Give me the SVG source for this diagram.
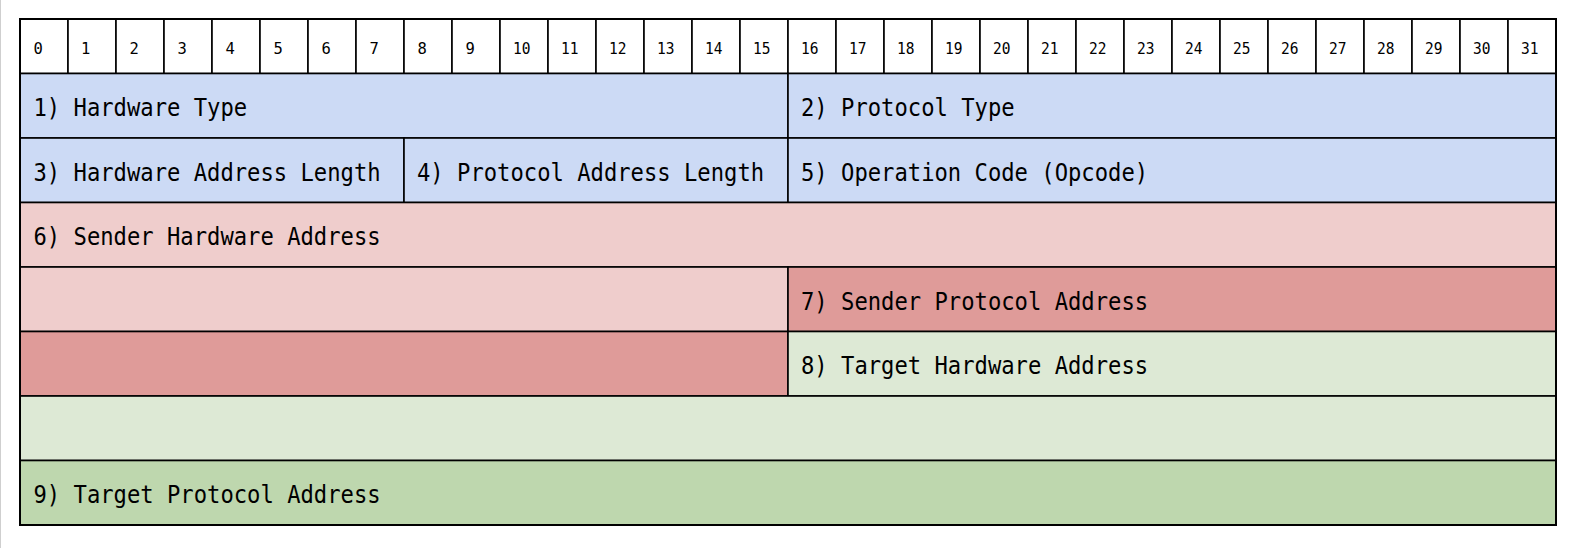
<svg xmlns="http://www.w3.org/2000/svg" width="1584" height="548" viewBox="0 0 1584 548">
<style>
.cell{stroke:#000;stroke-width:1.6}
.hdr{fill:#fff}
.blue{fill:#CCDAF5}
.pink{fill:#EFCDCC}
.red{fill:#DF9B99}
.lgreen{fill:#DDE9D5}
.green{fill:#BED7AE}
.num{font-family:"DejaVu Sans Mono",monospace;font-size:15.5px;fill:#000}
.lbl{font-family:"DejaVu Sans Mono",monospace;font-size:25px;fill:#000}
</style>
<rect x="0" y="0" width="1584" height="548" fill="#fff"/>
<line x1="0.5" y1="0" x2="0.5" y2="548" stroke="#cfcfcf" stroke-width="1"/>
<g id="header">
<rect class="cell hdr" x="20" y="19" width="48" height="54.5"/><text class="num" x="33.5" y="54">0</text>
<rect class="cell hdr" x="68" y="19" width="48" height="54.5"/><text class="num" x="81" y="54">1</text>
<rect class="cell hdr" x="116" y="19" width="48" height="54.5"/><text class="num" x="129.5" y="54">2</text>
<rect class="cell hdr" x="164" y="19" width="48" height="54.5"/><text class="num" x="177.5" y="54">3</text>
<rect class="cell hdr" x="212" y="19" width="48" height="54.5"/><text class="num" x="225.5" y="54">4</text>
<rect class="cell hdr" x="260" y="19" width="48" height="54.5"/><text class="num" x="273.5" y="54">5</text>
<rect class="cell hdr" x="308" y="19" width="48" height="54.5"/><text class="num" x="321.5" y="54">6</text>
<rect class="cell hdr" x="356" y="19" width="48" height="54.5"/><text class="num" x="369.5" y="54">7</text>
<rect class="cell hdr" x="404" y="19" width="48" height="54.5"/><text class="num" x="417.5" y="54">8</text>
<rect class="cell hdr" x="452" y="19" width="48" height="54.5"/><text class="num" x="465.5" y="54">9</text>
<rect class="cell hdr" x="500" y="19" width="48" height="54.5"/><text class="num" x="513" y="54" textLength="17.5" lengthAdjust="spacingAndGlyphs">10</text>
<rect class="cell hdr" x="548" y="19" width="48" height="54.5"/><text class="num" x="561" y="54" textLength="17.5" lengthAdjust="spacingAndGlyphs">11</text>
<rect class="cell hdr" x="596" y="19" width="48" height="54.5"/><text class="num" x="609" y="54" textLength="17.5" lengthAdjust="spacingAndGlyphs">12</text>
<rect class="cell hdr" x="644" y="19" width="48" height="54.5"/><text class="num" x="657" y="54" textLength="17.5" lengthAdjust="spacingAndGlyphs">13</text>
<rect class="cell hdr" x="692" y="19" width="48" height="54.5"/><text class="num" x="705" y="54" textLength="17.5" lengthAdjust="spacingAndGlyphs">14</text>
<rect class="cell hdr" x="740" y="19" width="48" height="54.5"/><text class="num" x="753" y="54" textLength="17.5" lengthAdjust="spacingAndGlyphs">15</text>
<rect class="cell hdr" x="788" y="19" width="48" height="54.5"/><text class="num" x="801" y="54" textLength="17.5" lengthAdjust="spacingAndGlyphs">16</text>
<rect class="cell hdr" x="836" y="19" width="48" height="54.5"/><text class="num" x="849" y="54" textLength="17.5" lengthAdjust="spacingAndGlyphs">17</text>
<rect class="cell hdr" x="884" y="19" width="48" height="54.5"/><text class="num" x="897" y="54" textLength="17.5" lengthAdjust="spacingAndGlyphs">18</text>
<rect class="cell hdr" x="932" y="19" width="48" height="54.5"/><text class="num" x="945" y="54" textLength="17.5" lengthAdjust="spacingAndGlyphs">19</text>
<rect class="cell hdr" x="980" y="19" width="48" height="54.5"/><text class="num" x="993" y="54" textLength="17.5" lengthAdjust="spacingAndGlyphs">20</text>
<rect class="cell hdr" x="1028" y="19" width="48" height="54.5"/><text class="num" x="1041" y="54" textLength="17.5" lengthAdjust="spacingAndGlyphs">21</text>
<rect class="cell hdr" x="1076" y="19" width="48" height="54.5"/><text class="num" x="1089" y="54" textLength="17.5" lengthAdjust="spacingAndGlyphs">22</text>
<rect class="cell hdr" x="1124" y="19" width="48" height="54.5"/><text class="num" x="1137" y="54" textLength="17.5" lengthAdjust="spacingAndGlyphs">23</text>
<rect class="cell hdr" x="1172" y="19" width="48" height="54.5"/><text class="num" x="1185" y="54" textLength="17.5" lengthAdjust="spacingAndGlyphs">24</text>
<rect class="cell hdr" x="1220" y="19" width="48" height="54.5"/><text class="num" x="1233" y="54" textLength="17.5" lengthAdjust="spacingAndGlyphs">25</text>
<rect class="cell hdr" x="1268" y="19" width="48" height="54.5"/><text class="num" x="1281" y="54" textLength="17.5" lengthAdjust="spacingAndGlyphs">26</text>
<rect class="cell hdr" x="1316" y="19" width="48" height="54.5"/><text class="num" x="1329" y="54" textLength="17.5" lengthAdjust="spacingAndGlyphs">27</text>
<rect class="cell hdr" x="1364" y="19" width="48" height="54.5"/><text class="num" x="1377" y="54" textLength="17.5" lengthAdjust="spacingAndGlyphs">28</text>
<rect class="cell hdr" x="1412" y="19" width="48" height="54.5"/><text class="num" x="1425" y="54" textLength="17.5" lengthAdjust="spacingAndGlyphs">29</text>
<rect class="cell hdr" x="1460" y="19" width="48" height="54.5"/><text class="num" x="1473" y="54" textLength="17.5" lengthAdjust="spacingAndGlyphs">30</text>
<rect class="cell hdr" x="1508" y="19" width="48" height="54.5"/><text class="num" x="1521" y="54" textLength="17.5" lengthAdjust="spacingAndGlyphs">31</text>
</g>
<g id="hardware-type">
<rect class="cell blue" x="20" y="73.5" width="768" height="64.5"/>
<text class="lbl" x="33.5" y="116" textLength="213.6" lengthAdjust="spacingAndGlyphs">1) Hardware Type</text>
</g>
<g id="protocol-type">
<rect class="cell blue" x="788" y="73.5" width="768" height="64.5"/>
<text class="lbl" x="801" y="116" textLength="213.6" lengthAdjust="spacingAndGlyphs">2) Protocol Type</text>
</g>
<g id="hw-addr-len">
<rect class="cell blue" x="20" y="138" width="384" height="64.5"/>
<text class="lbl" x="33.5" y="180.5" textLength="347.1" lengthAdjust="spacingAndGlyphs">3) Hardware Address Length</text>
</g>
<g id="proto-addr-len">
<rect class="cell blue" x="404" y="138" width="384" height="64.5"/>
<text class="lbl" x="417" y="180.5" textLength="347.1" lengthAdjust="spacingAndGlyphs">4) Protocol Address Length</text>
</g>
<g id="opcode">
<rect class="cell blue" x="788" y="138" width="768" height="64.5"/>
<text class="lbl" x="801" y="180.5" textLength="347.1" lengthAdjust="spacingAndGlyphs">5) Operation Code (Opcode)</text>
</g>
<g id="sender-hw-addr">
<rect class="cell pink" x="20" y="202.5" width="1536" height="64.5"/>
<rect class="cell pink" x="20" y="267" width="768" height="64.5"/>
<text class="lbl" x="33.5" y="245" textLength="347.1" lengthAdjust="spacingAndGlyphs">6) Sender Hardware Address</text>
</g>
<g id="sender-proto-addr">
<rect class="cell red" x="788" y="267" width="768" height="64.5"/>
<rect class="cell red" x="20" y="331.5" width="768" height="64.5"/>
<text class="lbl" x="801" y="309.5" textLength="347.1" lengthAdjust="spacingAndGlyphs">7) Sender Protocol Address</text>
</g>
<g id="target-hw-addr">
<rect class="cell lgreen" x="788" y="331.5" width="768" height="64.5"/>
<rect class="cell lgreen" x="20" y="396" width="1536" height="64.5"/>
<text class="lbl" x="801" y="374" textLength="347.1" lengthAdjust="spacingAndGlyphs">8) Target Hardware Address</text>
</g>
<g id="target-proto-addr">
<rect class="cell green" x="20" y="460.5" width="1536" height="64.5"/>
<text class="lbl" x="33.5" y="503" textLength="347.1" lengthAdjust="spacingAndGlyphs">9) Target Protocol Address</text>
</g>
<g id="connectors"></g>
<rect x="20" y="19" width="1536" height="506" fill="none" stroke="#000" stroke-width="2"/>
</svg>
